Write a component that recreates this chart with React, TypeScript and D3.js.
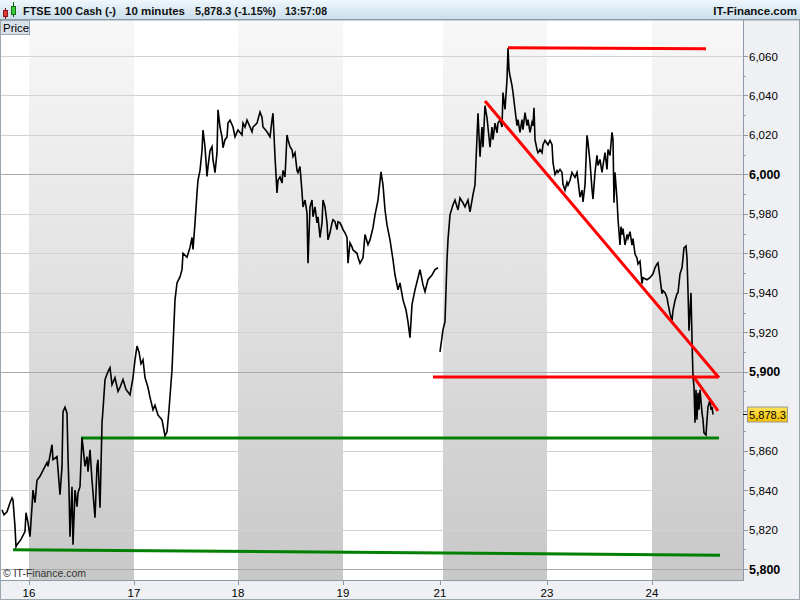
import React from 'react';
import * as d3 from 'd3';

// 10-minute bars: [bar index, price]
const closeSeries: [number, number][] = [
  [2,5830],[4,5827.5],[7,5829],[10,5833.6],[12,5836],[13,5835],[15,5821.4],[16,5811.3],[17,5812.3],[21,5815],[25,5819],
  [26,5828.5],[28,5823.5],[30,5816.4],[32,5831.6],[33,5840],[35,5833.6],[37,5845],[40,5847],[43,5850],[47,5854],[48,5852],
  [52,5863],[53,5855.4],[57,5857],[60,5837.6],[62,5852],[63,5879.7],[65,5882],[67,5879],[68,5857],[69,5840],[70,5816.4],
  [72,5841.7],[73,5812.3],[75,5840],[77,5831.6],[78,5838.7],[80,5841.7],[82,5866.5],[83,5862],[85,5852],[87,5857],[88,5849.3],
  [90,5860.4],[92,5845],[95,5826],[97,5852],[98,5855.4],[100,5831],[101,5852],[102,5874],[103,5880.7],[105,5896],
  [108,5900],[110,5902],[112,5893.4],[115,5897],[118,5890],[120,5892],[123,5896],[126,5891],[130,5888.3],[133,5897],
  [135,5906],[137,5913],[139,5910],[141,5904],[143,5906],[145,5897],[148,5892],[150,5887],[153,5880.7],[155,5883],
  [158,5878],[162,5875.6],[165,5867.5],[167,5869.5],[169,5880.7],[172,5901],[175,5936.4],[177,5945],
  [180,5948],[182,5951.7],[183,5960],[187,5958],[190,5963],[192,5968],[193,5962],[195,5975.4],[197,5990.6],[198,5997],
  [200,6002],[202,6012],[203,6022.5],[205,6014],[207,5999],[208,6004],[210,6012],[212,6014],[213,6007.5],[215,6000.9],
  [217,6011],[218,6032.7],[220,6024],[222,6019],[223,6013.5],[225,6017.6],[227,6019],[228,6026],[230,6027.5],[233,6024],
  [235,6019],[238,6022.5],[242,6020],[243,6026],[245,6024],[247,6027.5],[250,6024],[252,6021.6],[253,6024],[257,6026],
  [260,6031.6],[262,6029],[263,6024],[267,6021.6],[270,6019],[272,6027.5],[273,6031],[275,6009],[277,5990.6],[278,5997],
  [280,5998.7],[282,5995.6],[283,6002],[285,5998.7],[287,6020],[288,6017.6],[290,6014],[292,6012.5],[293,6009],[295,6011],
  [297,6002],[298,6000.9],[300,6004],[302,5991],[303,5983.5],[305,5987],[307,5980.5],[308,5955],[310,5983.5],[312,5987],
  [313,5978.5],[315,5983.5],[317,5975.4],[318,5978.5],[320,5968],[322,5975.4],[323,5987],[325,5983.5],[327,5975.4],
  [328,5966.8],[330,5970.4],[332,5975.4],[333,5977],[335,5976],[337,5972],[338,5976],[340,5975.4],[342,5973.4],[343,5972],
  [345,5970.4],[347,5968],[348,5955],[350,5965.3],[352,5963.3],[353,5961.7],[357,5960],[358,5958],[360,5955],
  [363,5957.7],[365,5969.5],[368,5964.4],[370,5966.8],[373,5973],[375,5979.5],[378,5987],[381,6001.3],[383,5994.7],
  [385,5982],[387,5974.4],[390,5966.8],[393,5956.7],[395,5949],[398,5941.5],[400,5945],[403,5936.4],[406,5931.3],
  [408,5925.2],[410,5917.2],[412,5934],[415,5941.5],[418,5947.6],[420,5951.7],[423,5944],[425,5940.5],[428,5946.6],
  [432,5949],[435,5951.7],[438,5952.7],[439,NaN],
  [440,5910],[443,5921.3],[445,5925.4],[447,5956.7],[448,5966.8],[450,5979.5],[453,5984.6],[455,5987],[458,5982],
  [460,5988],[463,5985.6],[465,5983.5],[468,5987],[470,5981],[473,5989.7],[475,5994.7],[478,6031],[480,6008.9],[482,6024],
  [483,6013.8],[485,6034.8],[487,6028.7],[490,6013.8],[492,6024],[493,6017.6],[495,6026],[497,6021],[498,6026],[500,6027.5],
  [502,6024],[503,6041.5],[505,6032.9],[507,6048],[508,6064],[509,6053],[510,6050],[512,6045],[513,6041.5],[515,6032.9],
  [517,6024.7],[518,6027.8],[520,6021.3],[522,6027.8],[523,6022.7],[525,6031.3],[527,6024.7],[528,6027.8],[530,6021.3],
  [532,6026.3],[533,6024.7],[534,6033.8],[535,6017.6],[537,6012.6],[538,6011],[540,6012.6],[542,6011],[543,6015],
  [545,6017.2],[548,6015],[550,6017.2],[552,6015],[553,6006],[555,6000],[557,6002],[558,6001],[560,6002.5],[562,6001],
  [563,5995],[565,5992],[567,5996],[568,5994.5],[570,5997],[572,6001],[573,6000],[575,5998.5],[577,6001],[578,5997],
  [580,5988.5],[582,5992],[583,5986],[585,5994.5],[587,6019.8],[588,6016.3],[590,6006.2],[592,5992.5],[593,5987.5],
  [595,6001],[597,6009.6],[598,6004.5],[600,6007.6],[602,6001],[603,6004.5],[605,6011],[607,6002.5],[608,6012.6],
  [610,6009.6],[612,6021.3],[613,6017.8],[614,5985.6],[615,6001],[617,5987.5],[618,5977.4],[620,5964.2],[621,5973.5],
  [622,5969.5],[623,5972.5],[625,5964.2],[627,5969.5],[628,5967.5],[630,5971],[632,5964.2],[633,5967.5],[635,5959.6],
  [637,5957.6],[638,5954.6],[640,5956],[642,5944.6],[643,5947.6],[647,5946.6],[650,5947.6],[653,5949.6],[655,5952.7],
  [657,5954.6],[658,5955.2],[660,5947.6],[662,5939.5],[663,5941],[665,5940],[667,5937.5],[668,5934.5],[670,5929.4],
  [672,5925.9],[673,5931],[675,5936],[677,5939.5],[678,5940],[680,5949.6],[682,5952.7],[683,5957.6],[684,5962.7],
  [686,5963.7],[687,5957.6],[688,5941],[689,5920.8],[691,5940],[692,5916.2],[693,5897.4],[694,5892.4],[695,5874.1],
  [696,5890.8],[697,5875.6],[698,5889.3],[699,5880.7],[700,5890.8],[702,5879.2],[703,5875.6],[704,5869],[706,5868],
  [707,5875.6],[708,5882.2],[710,5885.7],[711,5880.7],[712,5882.2],[713,5878.3],
];

const lastPrice = 5878.3;
const dayTickBars = [29, 134, 238, 343, 440, 547, 652];
const dayTickLabels = ['16', '17', '18', '19', '21', '23', '24'];
const shadedDays: [number, number][] = [[29, 134], [238, 343], [443, 547], [652, 743]];
const priceTicks = d3.range(5800, 6061, 20);
const minorPriceTicks = d3.range(5810, 6061, 20);

// trend lines: [bar1, price1, bar2, price2]
const redLines: [number, number, number, number][] = [
  [508, 6064.2, 706, 6063.7],
  [485, 6037.2, 719, 5896.9],
  [433, 5897.3, 718, 5897.3],
  [693, 5897.9, 718, 5880.2],
];
const greenLines: [number, number, number, number][] = [
  [81, 5866.4, 719, 5866.4],
  [13, 5809.8, 720, 5807.0],
];

const headerParts = ['FTSE 100 Cash (-)', '10 minutes', '5,878.3 (-1.15%)', '13:57:08'];
const headerStarts = [23, 125, 195, 285];
const headerWidths = [93, 60, 81, 42];

const FONT = "'Liberation Sans', Arial, sans-serif";

export default function App() {
  const W = 800, H = 600;
  const plotR = 743, plotT = 20, plotB = 580;
  const x = d3.scaleLinear().domain([0, 743]).range([0, 743]);
  const y = d3.scaleLinear().domain([5800, 6060]).range([569, 56]);
  const fmt = d3.format(',');

  const line = d3.line<[number, number]>()
    .defined(d => !isNaN(d[1]))
    .x(d => x(d[0]))
    .y(d => y(d[1]));

  const ly = y(lastPrice);
  const visibleTicks = priceTicks.filter(v => Math.abs(y(v) - ly) > 11);

  return (
    <svg width={W} height={H} style={{ position: 'fixed', left: 0, top: 0, background: '#fff' }} fontFamily={FONT}>
      <defs>
        <linearGradient id="band" gradientUnits="userSpaceOnUse" x1="0" y1={plotT} x2="0" y2={plotB}>
          <stop offset="0" stopColor="#f8f8f8" />
          <stop offset="1" stopColor="#c8c8c8" />
        </linearGradient>
        <linearGradient id="hdr" x1="0" y1="0" x2="0" y2="1">
          <stop offset="0" stopColor="#eef7fc" />
          <stop offset="1" stopColor="#c9dde9" />
        </linearGradient>
        <linearGradient id="gold" x1="0" y1="0" x2="0" y2="1">
          <stop offset="0" stopColor="#ffe45a" />
          <stop offset="1" stopColor="#f2c000" />
        </linearGradient>
        <clipPath id="plotclip">
          <rect x={0} y={plotT} width={plotR} height={plotB - plotT} />
        </clipPath>
      </defs>

      <rect x={0} y={plotT} width={plotR} height={plotB - plotT} fill="#ffffff" />
      {shadedDays.map(([a, b], i) => (
        <rect key={'b' + i} x={x(a)} y={plotT} width={x(b) - x(a)} height={plotB - plotT} fill="url(#band)" />
      ))}

      {priceTicks.map(v => (
        <line key={'g' + v} x1={0} x2={plotR} y1={Math.round(y(v)) + 0.5} y2={Math.round(y(v)) + 0.5}
          stroke={v % 100 === 0 ? '#a9a9a9' : '#d2d2d2'} strokeWidth={1} />
      ))}

      <g clipPath="url(#plotclip)">
        {greenLines.map((l, i) => (
          <line key={'gl' + i} x1={x(l[0])} y1={y(l[1])} x2={x(l[2])} y2={y(l[3])} stroke="#008000" strokeWidth={3} />
        ))}
        <path d={line(closeSeries) || ''} fill="none" stroke="#000" strokeWidth={1.6} strokeLinejoin="miter" />
        {redLines.map((l, i) => (
          <line key={'rl' + i} x1={x(l[0])} y1={y(l[1])} x2={x(l[2])} y2={y(l[3])} stroke="#ff0000" strokeWidth={3} />
        ))}
      </g>

      <text x={3} y={577} fontSize={10.5} fill="#333">© IT-Finance.com</text>

      <rect x={plotR} y={plotT} width={W - plotR} height={H - plotT} fill="#eef0f3" />
      <rect x={0} y={plotB} width={W} height={H - plotB} fill="#eef0f3" />
      <line x1={plotR + 0.5} x2={plotR + 0.5} y1={plotT} y2={plotB + 1} stroke="#8e9ba6" />
      <line x1={0} x2={plotR + 1} y1={plotB + 0.5} y2={plotB + 0.5} stroke="#8e9ba6" />
      <rect x={0.5} y={plotT} width={W - 1} height={H - plotT - 0.5} fill="none" stroke="#9aa6b0" />

      {priceTicks.map(v => (
        <line key={'t' + v} x1={plotR} x2={plotR + 5} y1={Math.round(y(v)) + 0.5} y2={Math.round(y(v)) + 0.5} stroke="#8e9ba6" />
      ))}
      {visibleTicks.map(v => (
        <text key={'tl' + v} x={749} y={y(v) + 4.5} fontSize={v % 100 === 0 ? 12.5 : 11.5} fontWeight={v % 100 === 0 ? 'bold' : 'normal'} fill="#000">{fmt(v)}</text>
      ))}
      {minorPriceTicks.map(v => (
        <line key={'m' + v} x1={plotR} x2={plotR + 3} y1={Math.round(y(v)) + 0.5} y2={Math.round(y(v)) + 0.5} stroke="#8e9ba6" />
      ))}

      {dayTickBars.map((b, i) => (
        <g key={'d' + b}>
          <line x1={Math.round(x(b)) + 0.5} x2={Math.round(x(b)) + 0.5} y1={plotB} y2={plotB + 5} stroke="#8e9ba6" />
          <text x={x(b)} y={597} fontSize={11.5} textAnchor="middle" fill="#000">{dayTickLabels[i]}</text>
        </g>
      ))}

      <line x1={plotR} x2={plotR + 5} y1={ly} y2={ly} stroke="#000" />
      <rect x={747.5} y={ly - 7.5} width={40} height={15} fill="url(#gold)" stroke="#9a9a9a" />
      <text x={749} y={ly + 4} fontSize={11} fill="#000" textLength={37} lengthAdjust="spacingAndGlyphs">{d3.format(',.1f')(lastPrice)}</text>

      <rect x={0} y={0} width={W} height={20} fill="url(#hdr)" />
      <line x1={0} x2={W} y1={19.5} y2={19.5} stroke="#8e9ba6" />
      <line x1={5.5} x2={5.5} y1={8} y2={19} stroke="#7a1010" />
      <rect x={3.5} y={10.5} width={4} height={6} fill="#e23a3a" stroke="#8a1a1a" />
      <line x1={13.5} x2={13.5} y1={2} y2={17} stroke="#106010" />
      <rect x={11.5} y={6.5} width={4} height={8} fill="#3acb3a" stroke="#1a6a1a" />
      {headerParts.map((t, i) => (
        <text key={'h' + i} x={headerStarts[i]} y={15} fontSize={11.5} fontWeight="bold" fill="#111"
          textLength={headerWidths[i]} lengthAdjust="spacingAndGlyphs">{t}</text>
      ))}
      <text x={797} y={15} fontSize={11.5} fontWeight="bold" textAnchor="end" fill="#111">IT-Finance.com</text>

      <rect x={0.5} y={20.5} width={29} height={14} fill="#d9e2ea" stroke="#9aa6b0" />
      <text x={3} y={31.5} fontSize={11.5} fill="#000">Price</text>
    </svg>
  );
}
